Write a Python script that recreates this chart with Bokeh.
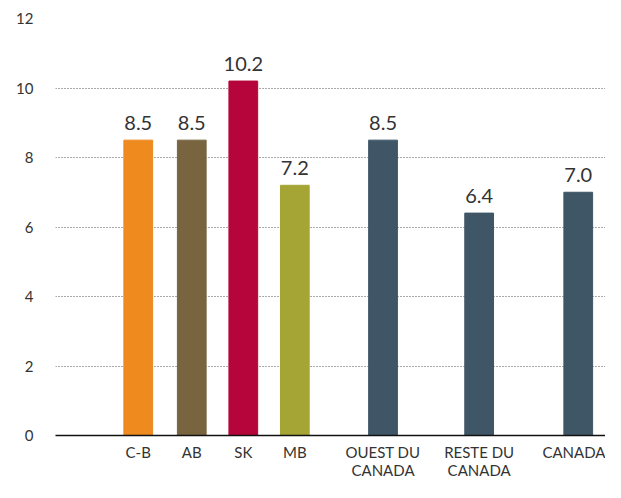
from bokeh.plotting import figure
from bokeh.models import ColumnDataSource, Range1d, FixedTicker, LabelSet
from bokeh.core.properties import value
from bokeh.embed import file_html
from bokeh.resources import INLINE

categories = ["C-B", "AB", "SK", "MB", "OUEST DU\nCANADA", "RESTE DU\nCANADA", "CANADA"]
values = [8.5, 8.5, 10.2, 7.2, 8.5, 6.4, 7.0]
value_labels = ["8.5", "8.5", "10.2", "7.2", "8.5", "6.4", "7.0"]
y_ticks = [0, 2, 4, 6, 8, 10, 12]

# layout (horizontal centres of bars, in frame units)
x_pos = [138.5, 192.5, 244.5, 296.5, 385.5, 482.5, 582.5]
colors = ["#EE8A1E", "#786540", "#B5053A", "#A5A535", "#3F5666", "#3F5666", "#3F5666"]
FONT = "Lato"

src = ColumnDataSource(dict(x=x_pos, top=values, lab=value_labels, color=colors))

p = figure(width=605, height=482, output_backend="svg", toolbar_location=None,
           x_range=Range1d(55, 610), y_range=Range1d(0, 12))
p.min_border_left = 55
p.min_border_right = 0
p.min_border_top = 18
p.min_border_bottom = 40
p.outline_line_color = None

p.vbar(x="x", top="top", width=29, bottom=0, color="color", source=src)

labels = LabelSet(x="x", y="top", text="lab", source=src, text_align="center",
                  text_baseline="bottom", y_offset=10, text_font=value(FONT),
                  text_font_size="20px", text_color="#333333")
p.add_layout(labels)

p.xgrid.grid_line_color = None
p.ygrid.ticker = FixedTicker(ticks=y_ticks[1:])
p.ygrid.grid_line_color = "#555555"
p.ygrid.grid_line_dash = "1 2"
p.ygrid.grid_line_width = 1

p.yaxis.ticker = FixedTicker(ticks=y_ticks)
p.yaxis.axis_line_color = None
p.yaxis.major_tick_line_color = None
p.yaxis.minor_tick_line_color = None
p.yaxis.major_tick_out = 0
p.yaxis.major_tick_in = 0
p.yaxis.minor_tick_out = 0
p.yaxis.major_label_standoff = 22
p.yaxis.major_label_text_font = FONT
p.yaxis.major_label_text_font_size = "15px"
p.yaxis.major_label_text_color = "#333333"

p.xaxis.ticker = FixedTicker(ticks=x_pos)
p.xaxis.major_label_overrides = {x: c for x, c in zip(x_pos, categories)}
p.xaxis.axis_line_color = "#111111"
p.xaxis.axis_line_width = 1.5
p.xaxis.major_tick_line_color = None
p.xaxis.minor_tick_line_color = None
p.xaxis.major_tick_out = 0
p.xaxis.major_tick_in = 0
p.xaxis.minor_tick_out = 0
p.xaxis.major_label_standoff = 7
p.xaxis.major_label_text_font = FONT
p.xaxis.major_label_text_font_size = "15px"
p.xaxis.major_label_text_line_height = 1.05
p.xaxis.major_label_text_color = "#333333"

open("out.html", "w").write(file_html(p, INLINE))
